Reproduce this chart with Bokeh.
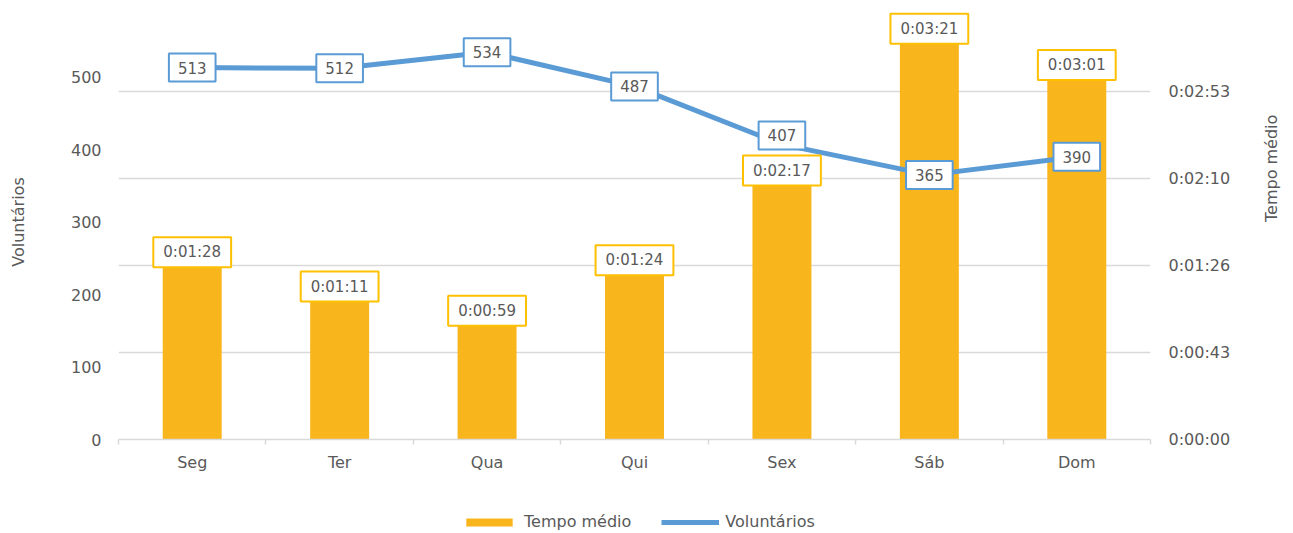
import math
from bokeh.plotting import figure
from bokeh.layouts import column
from bokeh.models import (Range1d, LinearAxis, FixedTicker, ColumnDataSource, Label,
                          Legend, LegendItem, Grid, CustomJSTickFormatter)
from bokeh.embed import file_html
from bokeh.resources import INLINE

# ---- data ----
dias = ["Seg", "Ter", "Qua", "Qui", "Sex", "Sáb", "Dom"]
tempo_seg = [88, 71, 59, 84, 137, 201, 181]          # Tempo médio (seconds)
voluntarios = [513, 512, 534, 487, 407, 365, 390]    # Voluntários
left_ticks = [0, 100, 200, 300, 400, 500]
right_step = 43.2                                    # seconds per gridline

def hms(s):
    s = int(round(s))
    return f"{s // 3600}:{(s % 3600) // 60:02d}:{s % 60:02d}"

FONT = "DejaVu Sans"
TXT = "#595959"
BAR = "#F9B51C"
LINE = "#5B9BD5"
GRID = "#D9D9D9"

Y1_MAX = 600
Y2_MAX = 216.0

# label nudges (screen px), as placed in the original chart
bar_label_nudge = {"Sex": -17}
line_label_nudge = {"Sex": 9}

xs = list(range(len(dias)))
src = ColumnDataSource(dict(x=xs, t=tempo_seg, v=voluntarios))

p = figure(width=1293, height=505, output_backend="svg", toolbar_location=None,
           x_range=Range1d(-0.5, len(dias) - 0.5), y_range=Range1d(0, Y1_MAX),
           min_border_left=118, min_border_right=143, min_border_top=4, min_border_bottom=66,
           outline_line_color=None, background_fill_color="white")
p.extra_y_ranges = {"right": Range1d(0, Y2_MAX)}
p.xgrid.visible = False
p.ygrid.visible = False

# x axis
xa = p.xaxis[0]
xa.ticker = FixedTicker(ticks=xs, minor_ticks=[i - 0.5 for i in range(len(dias) + 1)])
xa.major_label_overrides = {i: d for i, d in enumerate(dias)}
xa.major_tick_out = 0
xa.major_tick_in = 0
xa.major_tick_line_color = None
xa.minor_tick_out = 5
xa.minor_tick_in = 0
xa.minor_tick_line_color = GRID
xa.minor_tick_line_width = 1.5
xa.axis_line_color = GRID
xa.axis_line_width = 1.5
xa.major_label_standoff = 8
xa.major_label_text_font = FONT
xa.major_label_text_font_size = "16px"
xa.major_label_text_color = TXT

# left axis
ya = p.yaxis[0]
ya.ticker = FixedTicker(ticks=left_ticks)
ya.axis_line_color = None
ya.major_tick_line_color = None
ya.minor_tick_line_color = None
ya.major_label_standoff = 11
ya.major_label_text_font = FONT
ya.major_label_text_font_size = "16px"
ya.major_label_text_color = TXT
ya.axis_label = "Voluntários"
ya.axis_label_standoff = 40
ya.axis_label_text_font = FONT
ya.axis_label_text_font_size = "16px"
ya.axis_label_text_font_style = "normal"
ya.axis_label_text_color = TXT

# right axis
rticks = [right_step * i for i in range(5)]
rticker = FixedTicker(ticks=rticks)
ra = LinearAxis(y_range_name="right", ticker=rticker,
                formatter=CustomJSTickFormatter(code="""
const s = Math.round(tick);
const h = Math.floor(s / 3600), m = Math.floor((s % 3600) / 60), ss = s % 60;
return h + ":" + String(m).padStart(2, "0") + ":" + String(ss).padStart(2, "0");
"""))
ra.axis_line_color = None
ra.major_tick_line_color = None
ra.minor_tick_line_color = None
ra.major_label_standoff = 12
ra.major_label_text_font = FONT
ra.major_label_text_font_size = "16px"
ra.major_label_text_color = TXT
ra.axis_label = "Tempo médio"
ra.axis_label_orientation = math.pi / 2
ra.axis_label_standoff = 38
ra.axis_label_text_font = FONT
ra.axis_label_text_font_size = "16px"
ra.axis_label_text_font_style = "normal"
ra.axis_label_text_color = TXT
p.add_layout(ra, "right")

p.add_layout(Grid(dimension=1, ticker=rticker, y_range_name="right",
                  grid_line_color=GRID, grid_line_width=1.5))

bars = p.vbar(x="x", top="t", width=0.4, source=src, y_range_name="right",
              fill_color=BAR, line_color=None)
line = p.line(x="x", y="v", source=src, line_width=5, line_color=LINE,
              line_join="round", line_cap="round")

for d, x, t in zip(dias, xs, tempo_seg):
    p.add_layout(Label(x=x, y=min(t, Y2_MAX - 17), text=hms(t), y_range_name="right",
                       text_align="center", text_baseline="bottom",
                       y_offset=-5 + bar_label_nudge.get(d, 0),
                       text_font=FONT, text_font_size="15px", text_color=TXT,
                       background_fill_color="white", border_line_color="#FFC000",
                       border_line_width=2, padding=(10, 6)))
for d, x, v in zip(dias, xs, voluntarios):
    p.add_layout(Label(x=x, y=v, text=str(v), y_offset=line_label_nudge.get(d, 0),
                       text_align="center", text_baseline="middle",
                       text_font=FONT, text_font_size="15px", text_color=TXT,
                       background_fill_color="white", border_line_color=LINE,
                       border_line_width=2, padding=(9, 8)))

# legend strip below the chart (placeholder renderers, nothing drawn in the strip)
lg = figure(width=1293, height=28, output_backend="svg", toolbar_location=None,
            x_range=Range1d(0, 1), y_range=Range1d(0, 1), min_border=0,
            outline_line_color=None)
lg.axis.visible = False
lg.grid.visible = False
lb = lg.vbar(x=[float("nan")], top=[float("nan")], width=0.4, fill_color=BAR, line_color=None)
ll = lg.line(x=[float("nan")], y=[float("nan")], line_width=5, line_color=LINE)
legend = Legend(items=[LegendItem(label="Tempo médio", renderers=[lb]),
                       LegendItem(label="Voluntários", renderers=[ll])],
                orientation="horizontal", location=(342, 2),
                glyph_width=58, glyph_height=10, label_height=18,
                label_standoff=6, spacing=30, padding=0, margin=0,
                label_text_font=FONT, label_text_font_size="16px", label_text_color=TXT,
                border_line_color=None, background_fill_alpha=0)
lg.add_layout(legend)

layout = column(p, lg)
open("out.html", "w").write(file_html(layout, INLINE))
